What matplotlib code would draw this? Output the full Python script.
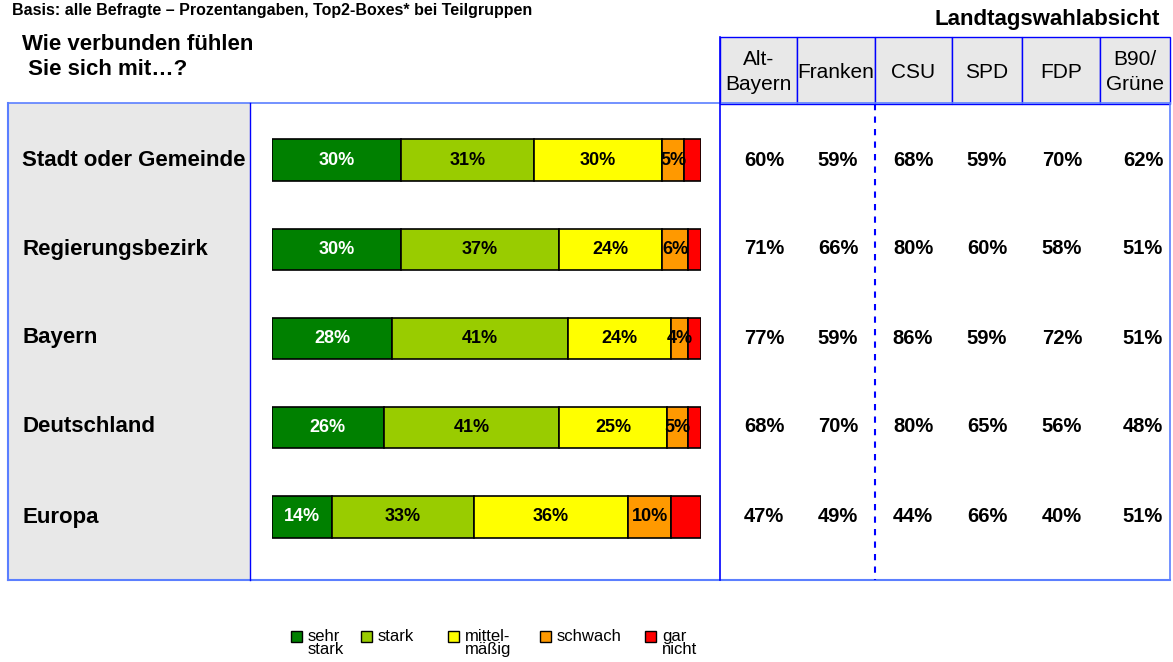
import matplotlib.pyplot as plt
from matplotlib.patches import Rectangle

plt.rcParams['font.family'] = ['Liberation Sans', 'DejaVu Sans']

# data
rows = ['Stadt oder Gemeinde', 'Regierungsbezirk', 'Bayern', 'Deutschland', 'Europa']
levels = ['sehr\nstark', 'stark', 'mittel-\nmäßig', 'schwach', 'gar\nnicht']
colors = ['#008000', '#99CC00', '#FFFF00', '#FF9900', '#FF0000']
sehr_stark = [30, 30, 28, 26, 14]
stark = [31, 37, 41, 41, 33]
mittel = [30, 24, 24, 25, 36]
schwach = [5, 6, 4, 5, 10]
gar_nicht = [4, 3, 3, 3, 7]

groups = ['Alt-\nBayern', 'Franken', 'CSU', 'SPD', 'FDP', 'B90/\nGrüne']
alt_bayern = [60, 71, 77, 68, 47]
franken = [59, 66, 59, 70, 49]
csu = [68, 80, 86, 80, 44]
spd = [59, 60, 59, 65, 66]
fdp = [70, 58, 72, 56, 40]
b90 = [62, 51, 51, 48, 51]

W, H = 1173, 662
fig = plt.figure(figsize=(W / 100, H / 100), dpi=100)

# overlay in pixel coordinates for frames and table
ax = fig.add_axes([0, 0, 1, 1])
ax.set_xlim(0, W)
ax.set_ylim(H, 0)
ax.axis('off')

blue = '#0000FF'
lblue = '#5B7FFF'
ax.add_patch(Rectangle((8, 103), 242, 477, facecolor='#E8E8E8', edgecolor='none'))
ax.plot([8, 1170], [103, 103], color=lblue, lw=1.2)
ax.plot([8, 1170], [580, 580], color=lblue, lw=1.5)
ax.plot([8, 8], [103, 580], color=lblue, lw=1.5)
ax.plot([1170, 1170], [103, 580], color=lblue, lw=1.2)
ax.plot([250, 250], [103, 580], color=blue, lw=1.0)
ax.plot([720, 720], [37, 580], color=blue, lw=1.2)
ax.plot([875, 875], [104, 580], color=blue, lw=1.5, ls=(0, (3, 3)))

col_edges = [720, 797, 875, 952, 1022, 1100, 1170]
for i, g in enumerate(groups):
    x0, x1 = col_edges[i], col_edges[i + 1]
    ax.add_patch(Rectangle((x0, 37), x1 - x0, 67, facecolor='#E8E8E8',
                           edgecolor=blue, lw=1.0))
    ax.text((x0 + x1) / 2, 72, g, ha='center', va='center', fontsize=15,
            linespacing=1.4)

ax.text(1160, 20, 'Landtagswahlabsicht', ha='right', va='center', fontsize=16,
        fontweight='bold')
ax.text(12, 10, 'Basis: alle Befragte – Prozentangaben, Top2-Boxes* bei Teilgruppen',
        ha='left', va='center', fontsize=11.5, fontweight='bold')
ax.text(22, 57, 'Wie verbunden fühlen\n Sie sich mit…?', ha='left', va='center',
        fontsize=16, fontweight='bold', linespacing=1.25)

row_y = [160, 249, 338, 427, 517]
for y, r in zip(row_y, rows):
    ax.text(22, y, r, ha='left', va='center', fontsize=16, fontweight='bold')

col_centers = [764, 838, 913, 987, 1062, 1143]
for cx, vals in zip(col_centers, [alt_bayern, franken, csu, spd, fdp, b90]):
    for y, v in zip(row_y, vals):
        ax.text(cx, y, f'{v}%', ha='center', va='center', fontsize=14.5,
                fontweight='bold')

# legend
leg_x = [291, 361, 448, 540, 645]
for lx, lab, c in zip(leg_x, levels, colors):
    ax.add_patch(Rectangle((lx, 631), 11, 11, facecolor=c, edgecolor='black', lw=1))
    ax.text(lx + 17, 629, lab, ha='left', va='top', fontsize=12,
            linespacing=0.85)

# stacked bars
bax = fig.add_axes([272 / W, 1 - 561.6 / H, 429 / W, 446.2 / H])
bax.patch.set_alpha(0)
bax.axis('off')
series = [sehr_stark, stark, mittel, schwach, gar_nicht]
ypos = list(range(len(rows)))
left = [0] * len(rows)
for k, (vals, c) in enumerate(zip(series, colors)):
    bax.barh(ypos, vals, left=left, height=0.46, color=c, edgecolor='black', lw=1.2)
    for i, v in enumerate(vals):
        if k < 4:
            tc = 'white' if k == 0 else 'black'
            bax.text(left[i] + v / 2, i, f'{v}%', ha='center', va='center',
                     color=tc, fontsize=13, fontweight='bold')
    left = [l + v for l, v in zip(left, vals)]
bax.set_xlim(0, 100)
bax.set_ylim(4.5, -0.5)

fig.savefig('out.png', dpi=100)
